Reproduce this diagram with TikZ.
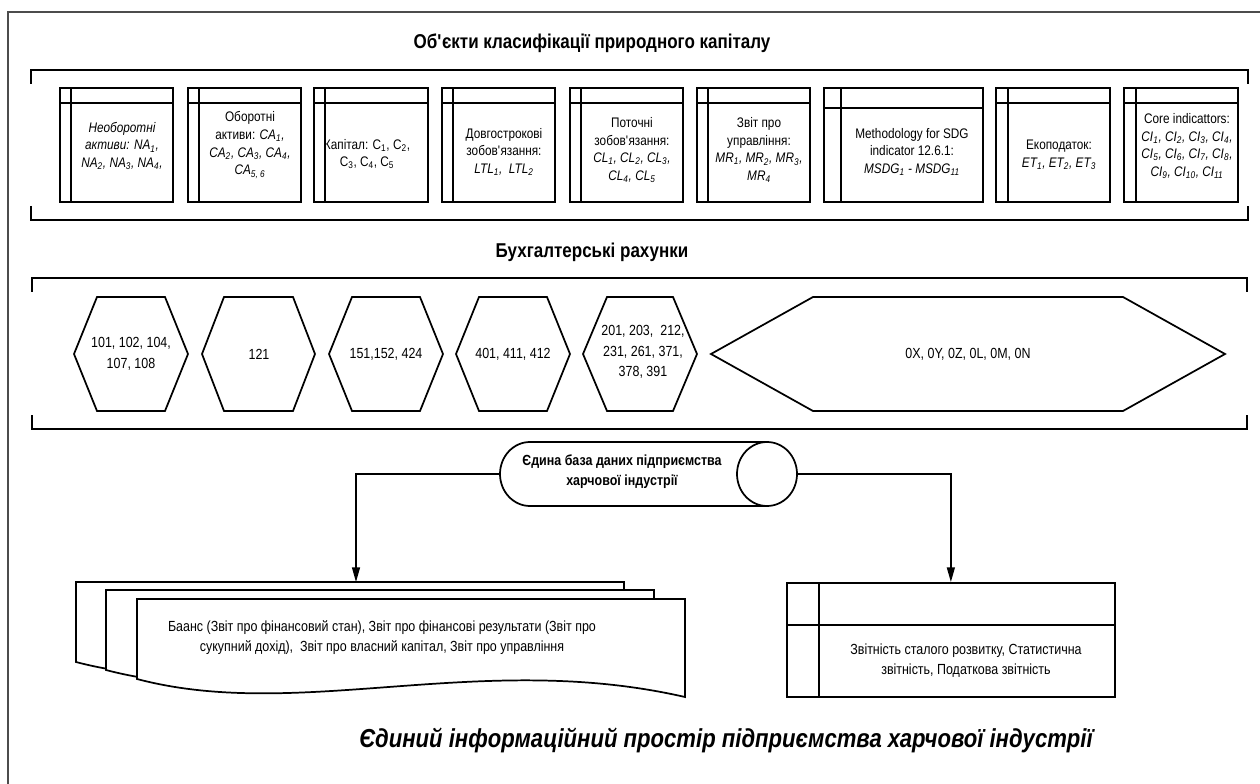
\documentclass[tikz,border=0pt]{standalone}
\usepackage{fontspec}
\setmainfont{Liberation Sans}[FakeStretch=0.85]
\usetikzlibrary{arrows.meta}
\newcommand\ap{\textquotesingle}
\newcommand\sub[1]{\textsubscript{#1}}
\newcommand\tbox[4]{%
  \draw[shp] (#1,88) rectangle (#2,202);
  \draw[shp] (#1,#3) -- (#2,#3) (#4,88) -- (#4,202);}
\newcommand\hexa[3]{%
  \draw[shp] (#1,354) -- ({#1+#3},297) -- ({#2-#3},297) -- (#2,354) -- ({#2-#3},411) -- ({#1+#3},411) -- cycle;}
\newcommand\docpage{%
  \draw[shp] (137,679) -- (137,599) -- (685,599) -- (685,697) .. controls (480,650) and (300,722) .. (137,679) -- cycle;}
\begin{document}
\begin{tikzpicture}[x=0.75pt,y=-0.75pt,
  shp/.style={draw=black, line width=1.3pt, fill=white},
  brk/.style={draw=black, line width=1.9pt},
  frm/.style={draw=black!70, line width=1.1pt},
  conn/.style={draw=black, line width=1pt, -{Triangle[length=11pt,width=6pt]}},
  ttl/.style={font=\fontsize{15}{17}\selectfont\bfseries, inner sep=0pt},
  btxt/.style={align=center, font=\fontsize{10.4}{13.3}\selectfont, inner sep=0pt},
  htxt/.style={align=center, font=\fontsize{11}{15.4}\selectfont, inner sep=0pt},
  mtxt/.style={align=center, font=\fontsize{11}{15}\selectfont, inner sep=0pt},
]
\useasboundingbox (0,0) rectangle (1260,784);
\fill[white] (0,0) rectangle (1260,784);
\draw[frm] (8,784) -- (8,12) -- (1260,12);

% titles
\node[ttl] (t1) at (592,43) {Об\ap єкти класифікації природного капіталу};
\node[ttl] (t2) at (592,252) {Бухгалтерські рахунки};

% brackets
\draw[brk] (31,84) -- (31,70) -- (1248,70) -- (1248,84);
\draw[brk] (31,206) -- (31,220) -- (1248,220) -- (1248,206);
\draw[brk] (32,292) -- (32,278) -- (1247,278) -- (1247,292);
\draw[brk] (32,415) -- (32,429) -- (1247,429) -- (1247,415);

% row 1 boxes
\tbox{60}{173}{103}{71}
\tbox{188}{301}{103}{199}
\tbox{314}{428}{103}{325}
\tbox{442}{555}{103}{453}
\tbox{570}{683}{103}{581}
\tbox{697}{810}{103}{708}
\tbox{824}{983}{108}{841}
\tbox{996}{1110}{103}{1008}
\tbox{1124}{1238}{103}{1136}

\node[btxt, font=\fontsize{10.4}{13.3}\selectfont\itshape] (b1) at (122,146) {Необоротні\\активи: NA\sub1,\\NA\sub2, NA\sub3, NA\sub4,};
\node[btxt] (b2) at (250,145) {Оборотні\\активи: \textit{CA\sub1,}\\\textit{CA\sub2, CA\sub3, CA\sub4,}\\\textit{CA\sub{5, 6}}};
\node[btxt] (b3) at (367,154) {Капітал: C\sub1, C\sub2,\\C\sub3, C\sub4, C\sub5};
\node[btxt] (b4) at (504,152) {Довгострокові\\зобов\ap язання:\\\textit{LTL\sub1,\ \ LTL\sub2}};
\node[btxt] (b5) at (632,150) {Поточні\\зобов\ap язання:\\\textit{CL\sub1, CL\sub2, CL\sub3,}\\\textit{CL\sub4, CL\sub5}};
\node[btxt] (b6) at (759,150) {Звіт про\\управління:\\\textit{MR\sub1, MR\sub2, MR\sub3,}\\\textit{MR\sub4}};
\node[btxt] (b7) at (912,152) {Methodology for SDG\\indicator 12.6.1:\\\textit{MSDG\sub1 - MSDG\sub{11}}};
\node[btxt] (b8) at (1059,155) {Екоподаток:\\\textit{ET\sub1, ET\sub2, ET\sub3}};
\node[btxt] (b9) at (1187,146) {Core indicattors:\\\textit{CI\sub1, CI\sub2, CI\sub3, CI\sub4,}\\\textit{CI\sub5, CI\sub6, CI\sub7, CI\sub8,}\\\textit{CI\sub9, CI\sub{10}, CI\sub{11}}};

% row 2 hexagons
\hexa{74}{188}{23}
\hexa{202}{315}{22}
\hexa{329}{443}{23}
\hexa{456}{570}{23}
\hexa{583}{697}{24}
\hexa{711}{1225}{102}
\node[htxt] (h1) at (131,354) {101, 102, 104,\\107, 108};
\node[htxt] (h2) at (259,354) {121};
\node[htxt] (h3) at (386,354) {151,152, 424};
\node[htxt] (h4) at (513,354) {401, 411, 412};
\node[htxt] (h5) at (643,352) {201, 203, \ 212,\\231, 261, 371,\\378, 391};
\node[htxt] (h6) at (968,354) {0X, 0Y, 0Z, 0L, 0M, 0N};

% database cylinder
\draw[shp] (767,442) -- (530,442) arc[start angle=270, end angle=90, x radius=30, y radius=32] -- (767,506);
\draw[shp] (767,474) ellipse [x radius=30, y radius=32];
\node[mtxt, font=\fontsize{11}{15}\selectfont\bfseries] (db) at (622,472) {Єдина база даних підприємства\\харчової індустрії};
\coordinate (dbL) at (500,474);
\coordinate (dbR) at (797,474);

% document stack
\begin{scope}[shift={(-61,-17)}]\docpage\end{scope}
\begin{scope}[shift={(-31,-9)}]\docpage\end{scope}
\docpage
\coordinate (docin) at (356,582);
\node[mtxt] (doc) at (382,638) {Баанс (Звіт про фінансовий стан), Звіт про фінансові результати (Звіт про\\сукупний дохід),\ \ Звіт про власний капітал, Звіт про управління};

% reports box
\node[shp, anchor=north west, minimum width=246pt, minimum height=85.5pt, inner sep=0pt] (rep) at (786,582) {};
\draw[shp] (786,625) -- (1114,625) (819,582) -- (819,696);
\node[mtxt] (reptxt) at (966,661) {Звітність сталого розвитку, Статистична\\звітність, Податкова звітність};

% connectors
\draw[conn] (dbL) -| (docin);
\draw[conn] (dbR) -| (rep.north);

% footer
\node[font=\fontsize{19.5}{23}\selectfont\bfseries\itshape, inner sep=0pt] (foot) at (726,740) {Єдиний інформаційний простір підприємства харчової індустрії};
\end{tikzpicture}
\end{document}
